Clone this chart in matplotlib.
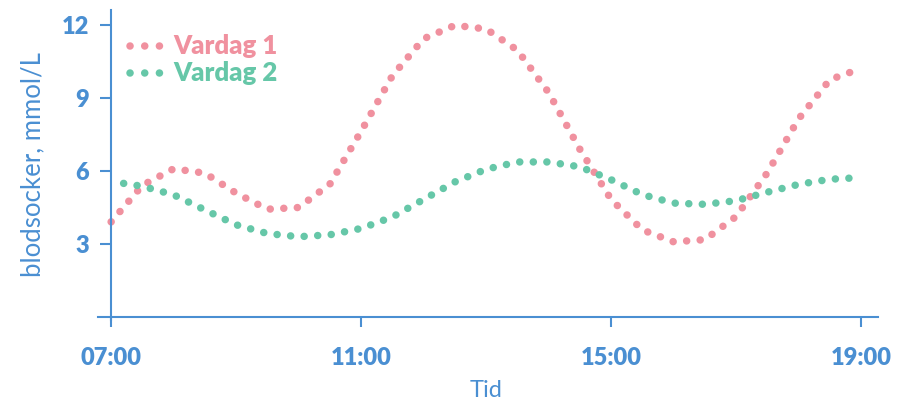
import matplotlib
matplotlib.use("Agg")
import matplotlib.pyplot as plt

# --- data (hours after 07:00, blood sugar in mmol/L) ---
hours_v1 = [0, 0.5, 1, 1.5, 2, 2.5, 3, 3.5, 4, 4.5, 5, 5.5, 6, 6.5, 7, 7.5, 8,
            8.5, 9, 9.5, 10, 10.5, 11, 11.5, 12]
vardag1 = [3.9, 5.4, 6.08, 5.9, 5.08, 4.42, 4.49, 5.45, 7.62, 9.9, 11.42, 11.97,
           11.82, 10.95, 9.21, 6.88, 4.82, 3.57, 3.08, 3.17, 4.12, 5.92, 8.13,
           9.74, 10.2]

hours_v2 = [0.2, 0.5, 1, 1.5, 2, 2.5, 3, 3.5, 4, 4.5, 5, 5.5, 6, 6.5, 7, 7.5, 8,
            8.5, 9, 9.5, 10, 10.5, 11, 11.5, 12]
vardag2 = [5.48, 5.36, 5.01, 4.39, 3.78, 3.42, 3.29, 3.37, 3.63, 4.10, 4.82, 5.54,
           6.06, 6.36, 6.36, 6.16, 5.63, 5.02, 4.67, 4.62, 4.77, 5.12, 5.44, 5.65,
           5.72]

x_ticks = [0, 4, 8, 12]
x_labels = ["07:00", "11:00", "15:00", "19:00"]
y_ticks = [3, 6, 9, 12]

names = ["Vardag 1", "Vardag 2"]
pink = "#F0919F"
green = "#66C7A8"
blue = "#4A8FD2"

plt.rcParams['font.family'] = ['Lato', 'DejaVu Sans']

fig = plt.figure(figsize=(9.13, 4.03), dpi=100)
ax = fig.add_axes([98 / 913, 1 - 320 / 403, 780 / 913, 310 / 403])

dots = (0, (0.01, 1.8))
ax.plot(hours_v1, vardag1, color=pink, lw=5.4, linestyle=dots,
        dash_capstyle='round', solid_capstyle='round')
ax.plot(hours_v2, vardag2, color=green, lw=5.4, linestyle=dots,
        dash_capstyle='round', solid_capstyle='round')

ax.set_xlim(-0.21, 12.27)
ax.set_ylim(-0.13, 12.6)

for s in ["top", "right"]:
    ax.spines[s].set_visible(False)
ax.spines["left"].set_position(("data", 0))
ax.spines["bottom"].set_position(("data", 0))
for s in ["left", "bottom"]:
    ax.spines[s].set_color(blue)
    ax.spines[s].set_linewidth(1.5)

ax.set_xticks(x_ticks)
ax.set_xticklabels(x_labels)
ax.set_yticks(y_ticks)
ax.tick_params(axis="y", direction="out", length=8, width=1.5, color=blue,
               labelcolor=blue, labelsize=17, pad=8)
ax.tick_params(axis="x", direction="out", length=7, width=1.5, color=blue,
               labelcolor=blue, labelsize=17, pad=15)
for lab in ax.get_xticklabels() + ax.get_yticklabels():
    lab.set_fontweight("heavy")

ax.set_ylabel("blodsocker, mmol/L", color=blue, fontsize=18.5, fontweight="normal",
              va="center", ha="center")
ax.yaxis.set_label_coords(-0.083, 0.5)
ax.set_xlabel("Tid", color=blue, fontsize=17, fontweight="normal",
              va="center", ha="center")
ax.xaxis.set_label_coords(0.497, -0.229)

# legend drawn by hand: three dots and a label
for i, (name, col) in enumerate(zip(names, [pink, green])):
    ypix = 46 + 27 * i
    yfig = 1 - ypix / 403
    fig.lines.append(plt.Line2D([130 / 913, 160 / 913], [yfig, yfig],
                                transform=fig.transFigure, color=col, lw=5.4,
                                linestyle=(0, (0.01, 1.95)), dash_capstyle='round'))
    fig.text(173 / 913, yfig, name, color=col, fontsize=18.5, fontweight="heavy",
             va="center", ha="left")

fig.savefig("out.png", dpi=100)
